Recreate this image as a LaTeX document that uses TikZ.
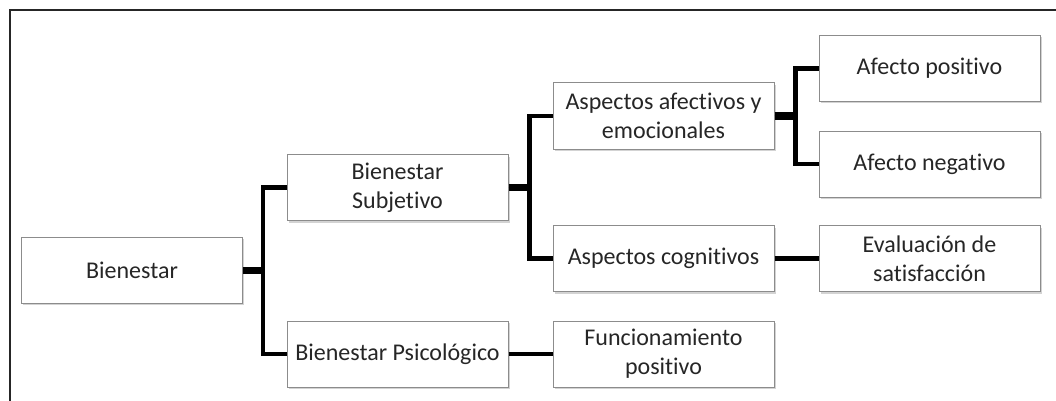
\documentclass[tikz,border=0pt]{standalone}
\usepackage{fontspec}
\setmainfont{Carlito}[Ligatures=NoCommon]
\usetikzlibrary{shadows}
\begin{document}
\begin{tikzpicture}[x=1pt,y=-1pt,
 box/.style={draw=black!45, line width=1pt, fill=white,
   drop shadow={shadow xshift=1.5pt,shadow yshift=-2pt,opacity=0.35},
   minimum width=221pt, minimum height=66pt, inner sep=2pt, align=center,
   font=\fontsize{24}{29}\selectfont, text=black!85},
 conn/.style={line width=4.2pt, black},
 outerframe/.style={line width=2pt, black!85}]
\useasboundingbox (0,0) rectangle (1056,401);
\draw[outerframe] (1056,10) -- (10,10) -- (10,401);
\node[box] (b) at (132,270) {Bienestar};
\node[box] (bs) at (397.5,187.5) {Bienestar\\Subjetivo};
\node[box] (bp) at (397.5,354) {Bienestar Psicológico};
\node[box] (aa) at (663.5,116) {Aspectos afectivos y\\emocionales};
\node[box] (ac) at (663.5,258.5) {Aspectos cognitivos};
\node[box] (fp) at (663.5,354) {Funcionamiento\\positivo};
\node[box] (ap) at (929.5,68.5) {Afecto positivo};
\node[box] (an) at (929.5,164) {Afecto negativo};
\node[box] (es) at (929.5,258.5) {Evaluación de\\satisfacción};
\draw[conn] ([yshift=1.4pt]b.east) -- ++(20,0) |- (bs.west);
\draw[conn] ([yshift=-1.4pt]b.east) -- ++(20,0) |- (bp.west);
\draw[conn] ([yshift=1.4pt]bs.east) -- ++(21,0) |- (aa.west);
\draw[conn] ([yshift=-1.4pt]bs.east) -- ++(21,0) |- (ac.west);
\draw[conn] ([yshift=1.4pt]aa.east) -- ++(21,0) |- (ap.west);
\draw[conn] ([yshift=-1.4pt]aa.east) -- ++(21,0) |- (an.west);
\draw[conn] (ac.east) -- (es.west);
\draw[conn] (bp.east) -- (fp.west);
\end{tikzpicture}
\end{document}
